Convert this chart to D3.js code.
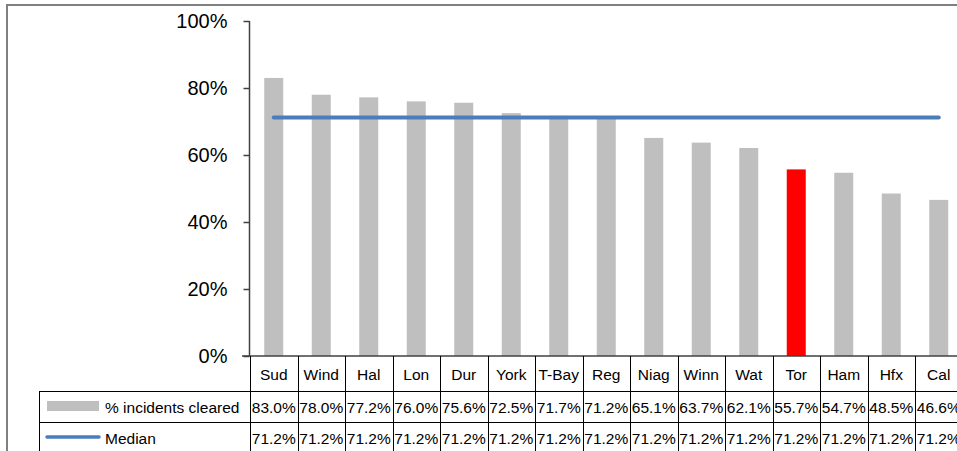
<!DOCTYPE html>
<html><head><meta charset="utf-8">
<script src="https://cdn.jsdelivr.net/npm/d3@7"></script>
<style>
html,body{margin:0;padding:0;background:#fff;overflow:hidden}
text{font-family:Arial,"Liberation Sans",sans-serif;fill:#000}
</style></head>
<body>
<svg id="c" width="957" height="451"></svg>
<script>
const categories = ["Sud","Wind","Hal","Lon","Dur","York","T-Bay","Reg","Niag","Winn","Wat","Tor","Ham","Hfx","Cal"];
const cleared = [83.0,78.0,77.2,76.0,75.6,72.5,71.7,71.2,65.1,63.7,62.1,55.7,54.7,48.5,46.6];
const median = [71.2,71.2,71.2,71.2,71.2,71.2,71.2,71.2,71.2,71.2,71.2,71.2,71.2,71.2,71.2];
const highlight = "Tor";
const yTicks = [0,20,40,60,80,100];
const seriesNames = ["% incidents cleared","Median"];

const svg = d3.select("#c");
const x = d3.scaleBand().domain(categories).range([250, 962.5]).padding(0);
const y = d3.scaleLinear().domain([0,100]).range([356, 21]);
const barW = x.bandwidth()*0.4;

// outer frame
svg.append("path").attr("d","M7,452 V5 H960").attr("fill","none").attr("stroke","#808080").attr("stroke-width",2);

// bars
svg.selectAll("rect.bar").data(categories).join("rect")
  .attr("x", d => x(d) + x.bandwidth()/2 - barW/2)
  .attr("y", (d,i) => y(cleared[i]))
  .attr("width", barW)
  .attr("height", (d,i) => y(0) - y(cleared[i]))
  .attr("fill", d => d === highlight ? "#FF0000" : "#BFBFBF");

// median line
const line = d3.line().x((d,i) => x(categories[i]) + x.bandwidth()/2).y(d => y(d));
svg.append("path").datum(median).attr("d", line).attr("fill","none")
  .attr("stroke","#4A7EBB").attr("stroke-width",4).attr("stroke-linecap","round");

// y axis
const yAxis = d3.axisLeft(y).tickValues(yTicks).tickSize(6).tickPadding(16).tickFormat(d => d + "%");
const ga = svg.append("g").attr("transform","translate(249.5,0)").call(yAxis);
ga.select(".domain").attr("stroke","#404040").attr("stroke-width",1.5).attr("d","M0,21 V356");
ga.selectAll(".tick line").attr("stroke","#404040").attr("stroke-width",1.5);
ga.selectAll(".tick text").style("font-size","20px").style("font-family","Arial, 'Liberation Sans', sans-serif").attr("fill","#000");

// x axis line (table top)
svg.append("line").attr("x1",242).attr("x2",962).attr("y1",356).attr("y2",356).attr("stroke","#404040").attr("stroke-width",1.5);

// table
const rows = [356, 391, 422, 453];
const tbl = svg.append("g");
// horizontal rows
tbl.append("line").attr("x1",39).attr("x2",962).attr("y1",rows[1]+0.5).attr("y2",rows[1]+0.5).attr("stroke","#000");
tbl.append("line").attr("x1",39).attr("x2",962).attr("y1",rows[2]+0.5).attr("y2",rows[2]+0.5).attr("stroke","#000");
// left border of legend
tbl.append("line").attr("x1",39.5).attr("x2",39.5).attr("y1",rows[1]).attr("y2",rows[3]).attr("stroke","#000");
// column separators
const bounds = categories.map(c => x(c)).concat([x.range()[1]]);
tbl.selectAll("line.col").data(bounds).join("line")
  .attr("x1", d => Math.round(d)+0.5).attr("x2", d => Math.round(d)+0.5)
  .attr("y1", rows[0]).attr("y2", rows[3]).attr("stroke","#000");

// header labels
tbl.selectAll("text.cat").data(categories).join("text")
  .attr("x", d => x(d) + x.bandwidth()/2).attr("y", (rows[0]+rows[1])/2 + 1)
  .attr("text-anchor","middle").attr("dominant-baseline","central")
  .style("font-size","15.5px").text(d => d);
// values
const rowData = [cleared, median];
rowData.forEach((arr, r) => {
  tbl.selectAll("text.v"+r).data(arr).join("text")
    .attr("x", (d,i) => x(categories[i]) + x.bandwidth()/2)
    .attr("y", (rows[r+1]+rows[r+2])/2 + 1)
    .attr("text-anchor","middle").attr("dominant-baseline","central")
    .style("font-size","15.5px").text(d => d.toFixed(1) + "%");
});

// legend keys
tbl.append("rect").attr("x",47).attr("y",401).attr("width",52).attr("height",10).attr("fill","#BFBFBF");
tbl.append("line").attr("x1",47).attr("x2",99).attr("y1",437).attr("y2",437).attr("stroke","#4A7EBB").attr("stroke-width",3.5).attr("stroke-linecap","round");
tbl.selectAll("text.leg").data(seriesNames).join("text")
  .attr("x",105).attr("y",(d,i) => (rows[i+1]+rows[i+2])/2 + 1)
  .attr("dominant-baseline","central").style("font-size","15.5px").text(d => d);
</script>
</body></html>
